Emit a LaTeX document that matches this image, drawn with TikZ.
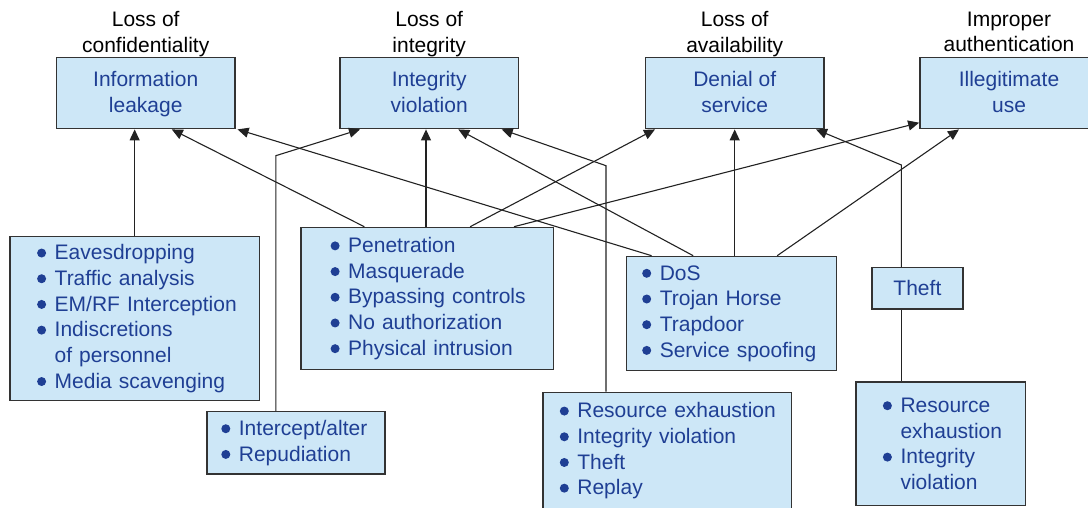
\documentclass[tikz,border=0pt]{standalone}
\usepackage{fontspec}
\setmainfont{Liberation Sans}
\usetikzlibrary{arrows.meta}
\definecolor{boxfill}{HTML}{CDE7F7}
\definecolor{boxtext}{HTML}{1F3F94}
\definecolor{boxline}{HTML}{333333}
\definecolor{wire}{HTML}{222222}
\newcommand{\fsz}{\fontsize{21}{25.5}\selectfont}
\newcommand{\lsz}{\fontsize{21}{25.7}\selectfont}
\newcommand{\bdot}{\tikz[baseline=-6.7pt]\fill[boxtext] (0,0) circle[radius=4.5pt];}
\newcommand{\itm}[1]{\mbox{\makebox[17.6pt][l]{\bdot}#1}}
\newcommand{\cnt}[1]{\mbox{\hspace*{17.6pt}#1}}
\newcommand{\two}[2]{\rule{0pt}{20.85pt}#1\\\strut #2}
\tikzset{
  topbox/.style={draw=boxline, line width=1.4pt, fill=boxfill, text=boxtext,
    align=center, minimum width=178.3pt, minimum height=71.4pt, inner sep=0pt, font=\fsz},
  listbox/.style={draw=boxline, line width=1.4pt, fill=boxfill, text=boxtext,
    align=left, inner ysep=0pt, anchor=north west, font=\lsz},
  toplabel/.style={anchor=north, align=center, inner sep=0pt, font=\fsz, text=black},
  arr/.style={draw=wire, line width=1.1pt, -{Triangle[length=11pt,width=10pt]}},
  wireline/.style={draw=wire, line width=1.1pt}
}
\begin{document}
\begin{tikzpicture}[x=1pt, y=-1pt]
\useasboundingbox (0,0) rectangle (1088,508);

% top boxes
\node[topbox] (il) at (145.7,93) {\two{Information}{leakage}};
\node[topbox] (iv) at (429.2,93) {\two{Integrity}{violation}};
\node[topbox] (ds) at (734.7,93) {\two{Denial of}{service}};
\node[topbox] (iu) at (1009,93) {\two{Illegitimate}{use}};

% labels
\node[toplabel] (t1) at (145.7,11.4) {Loss of\\confidentiality};
\node[toplabel] (t2) at (429.2,11.4) {Loss of\\integrity};
\node[toplabel] (t3) at (734.7,11.4) {Loss of\\availability};
\node[toplabel] (t4) at (1009,11.4) {Improper\\authentication};

% lower boxes
\node[listbox, inner xsep=27pt, text width=195.1pt, minimum height=164.3pt] (la) at (9.4,235.7)
  {\itm{Eavesdropping}\\\itm{Traffic analysis}\\\itm{EM/RF Interception}\\\itm{Indiscretions}\\\cnt{of personnel}\\\itm{Media scavenging}};
\node[listbox, inner xsep=29.8pt, text width=193pt, minimum height=142.3pt] (lb) at (300.1,226.7)
  {\itm{Penetration}\\\itm{Masquerade}\\\itm{Bypassing controls}\\\itm{No authorization}\\\itm{Physical intrusion}};
\node[listbox, inner xsep=14.5pt, text width=149pt, minimum height=62.3pt] (lc) at (206.1,411)
  {\itm{Intercept/alter}\\\itm{Repudiation}};
\node[listbox, inner xsep=15.6pt, text width=178.4pt, minimum height=114pt] (ld) at (625.9,255.7)
  {\itm{DoS}\\\itm{Trojan Horse}\\\itm{Trapdoor}\\\itm{Service spoofing}};
\node[listbox, inner xsep=16.8pt, text width=215.1pt, minimum height=117pt] (le) at (542.3,391.7)
  {\itm{Resource exhaustion}\\\itm{Integrity violation}\\\itm{Theft}\\\itm{Replay}};
\node[listbox, inner xsep=27pt, text width=115.7pt, minimum height=123.7pt] (lf) at (855.2,381.3)
  {\itm{Resource}\\\cnt{exhaustion}\\\itm{Integrity}\\\cnt{violation}};
\node[draw=boxline, line width=1.4pt, fill=boxfill, text=boxtext, font=\fsz, inner sep=0pt,
  minimum width=91pt, minimum height=41.3pt, anchor=north west] (th) at (871.2,267) {Theft};

% bend points
\coordinate (cb) at (275.8,155.7);
\coordinate (eb) at (606,165.7);
\coordinate (tb) at (901.4,165);

% connectors
\draw[arr] (la.north) -- (la.north |- il.south);
\draw[arr] (364.3,0 |- lb.north) -- (171.8,0 |- il.south);
\draw[arr] (426,0 |- lb.north) -- (426,0 |- iv.south);
\draw[arr] (470.2,0 |- lb.north) -- (655,0 |- ds.south);
\draw[arr] (514,0 |- lb.north) -- ([yshift=6.7pt]iu.south west);
\draw[arr] (651.6,0 |- ld.north) -- ([xshift=2pt]il.south east);
\draw[arr] (693.2,0 |- ld.north) -- (458.3,0 |- iv.south);
\draw[arr] (ds.south |- ld.north) -- (ds.south);
\draw[arr] (777.2,0 |- ld.north) -- (959,0 |- iu.south);
\draw[arr] (cb |- lc.north) -- (cb) -- (360,0 |- iv.south);
\draw[arr] (eb |- le.north) -- (eb) -- (501.7,0 |- iv.south);
\draw[arr] (tb |- th.north) -- (tb) -- (816,0 |- ds.south);
\draw[wireline] (tb |- th.south) -- (tb |- lf.north);
\end{tikzpicture}
\end{document}
